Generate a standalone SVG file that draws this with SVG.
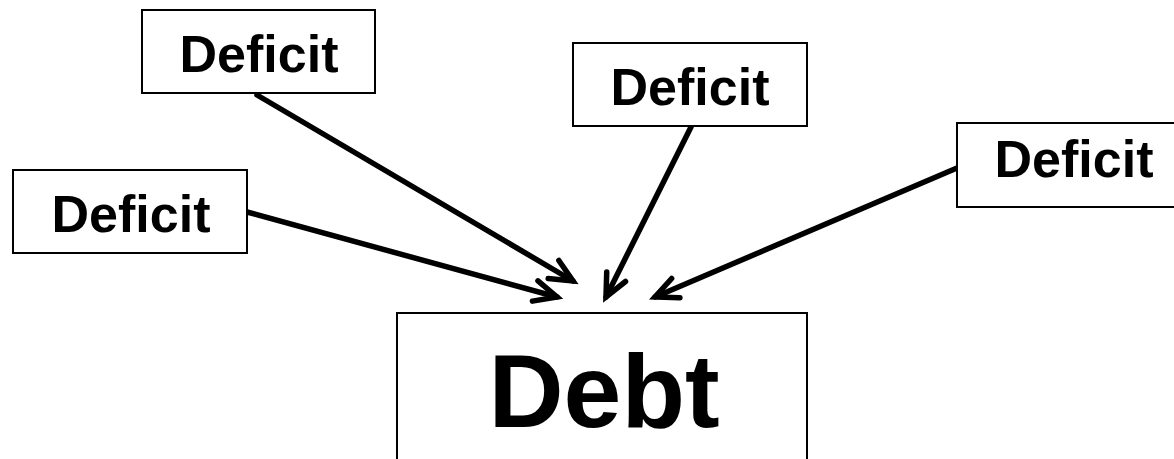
<svg xmlns="http://www.w3.org/2000/svg" width="1174" height="459" viewBox="0 0 1174 459">
<style>
.box{fill:#fff;stroke:#000;stroke-width:2}
.lbl{font-family:"Liberation Sans",Arial,sans-serif;font-weight:bold;font-size:52px;fill:#000;text-anchor:middle}
.big{font-size:104px}
.conn{stroke:#000;stroke-width:5.5;fill:none;stroke-linecap:round}
</style>
<defs>
<marker id="ah" markerUnits="userSpaceOnUse" viewBox="-30 -16 34 32" refX="0" refY="0" markerWidth="34" markerHeight="32" orient="auto" overflow="visible">
<path d="M -22.6 -10.5 L 0 0 L -22.6 10.5" fill="none" stroke="#000" stroke-width="5.5" stroke-linecap="round" stroke-linejoin="miter"/>
</marker>
</defs>
<rect width="1174" height="459" fill="#fff"/>
<g id="connectors">
<line class="conn" x1="257" y1="95" x2="573" y2="281" marker-end="url(#ah)"/>
<line class="conn" x1="247" y1="212" x2="557" y2="297" marker-end="url(#ah)"/>
<line class="conn" x1="691" y1="127" x2="606" y2="297" marker-end="url(#ah)"/>
<line class="conn" x1="957" y1="168" x2="655" y2="297" marker-end="url(#ah)"/>
</g>
<g id="deficit1">
<rect class="box" x="142" y="10" width="233" height="83"/>
<text class="lbl" x="259" y="72">Deficit</text>
</g>
<g id="deficit2">
<rect class="box" x="13" y="170" width="234" height="83"/>
<text class="lbl" x="131" y="232">Deficit</text>
</g>
<g id="deficit3">
<rect class="box" x="573" y="43" width="234" height="83"/>
<text class="lbl" x="690" y="105">Deficit</text>
</g>
<g id="deficit4">
<rect class="box" x="957" y="123" width="234" height="84"/>
<text class="lbl" x="1074" y="177">Deficit</text>
</g>
<g id="debt">
<rect class="box" x="397" y="313" width="410" height="170"/>
<text class="lbl big" x="604" y="427">Debt</text>
</g>
</svg>
